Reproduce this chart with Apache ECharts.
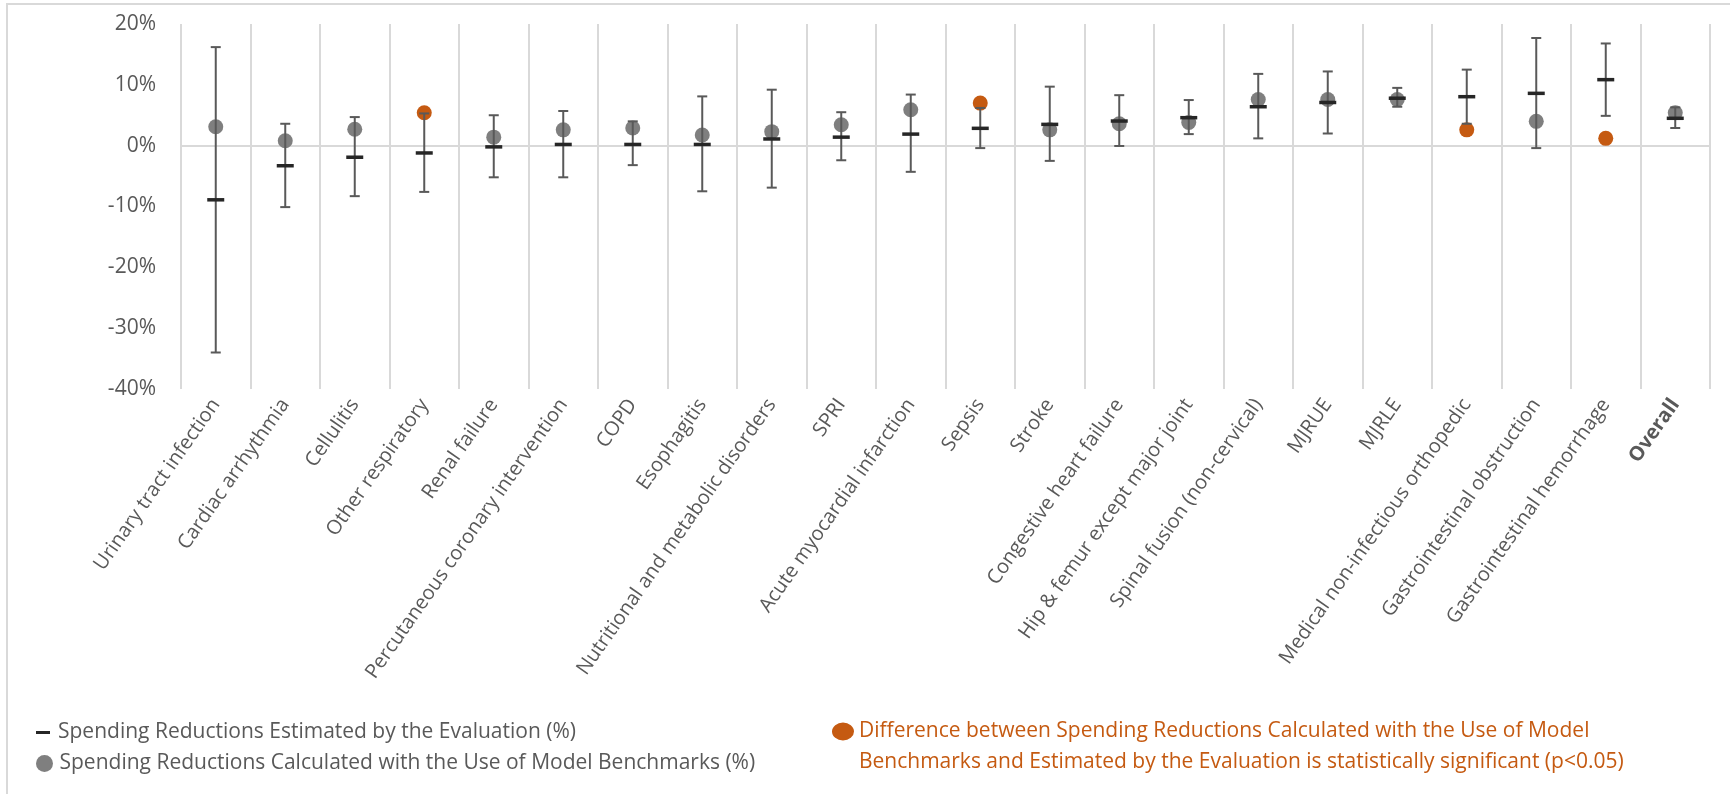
<!DOCTYPE html>
<html>
<head>
<meta charset="utf-8">
<title>Spending reductions by episode</title>
<script src="https://cdn.jsdelivr.net/npm/echarts@6/dist/echarts.min.js"></script>
<style>
  html, body { margin: 0; padding: 0; background: #ffffff; }
  #chart { width: 1730px; height: 794px; }
</style>
</head>
<body>
<div id="chart"></div>
<script>
// Episode categories, in display order
const categories = [
  'Urinary tract infection', 'Cardiac arrhythmia', 'Cellulitis', 'Other respiratory',
  'Renal failure', 'Percutaneous coronary intervention', 'COPD', 'Esophagitis',
  'Nutritional and metabolic disorders', 'SPRI', 'Acute myocardial infarction', 'Sepsis',
  'Stroke', 'Congestive heart failure', 'Hip & femur except major joint',
  'Spinal fusion (non-cervical)', 'MJRUE', 'MJRLE', 'Medical non-infectious orthopedic',
  'Gastrointestinal obstruction', 'Gastrointestinal hemorrhage', 'Overall'
];

// Spending reductions estimated by the evaluation (%)
const estimated = [-8.9, -3.3, -1.9, -1.2, -0.2, 0.2, 0.2, 0.2, 1.1, 1.4, 1.9, 2.85,
  3.5, 4.05, 4.6, 6.4, 7.1, 7.8, 8.05, 8.6, 10.85, 4.5];

// Confidence interval bounds of the evaluation estimate (%)
const ciLow = [-34.0, -10.1, -8.3, -7.6, -5.2, -5.2, -3.2, -7.5, -6.9, -2.4, -4.3, -0.4,
  -2.5, -0.05, 1.9, 1.2, 2.0, 6.4, 3.6, -0.4, 4.9, 2.9];
const ciHigh = [16.2, 3.6, 4.7, 5.3, 5.0, 5.7, 4.0, 8.1, 9.2, 5.5, 8.4, 6.2,
  9.7, 8.3, 7.5, 11.8, 12.2, 9.5, 12.5, 17.7, 16.8, 6.3];

// Spending reductions calculated with model benchmarks (%)
const benchmark = [3.1, 0.8, 2.7, 5.4, 1.4, 2.6, 2.9, 1.75, 2.3, 3.45, 5.9, 7.0,
  2.6, 3.6, 3.8, 7.6, 7.6, 7.6, 2.6, 4.0, 1.2, 5.4];

// Whether the difference between the two is statistically significant (p<0.05)
const significant = [false, false, false, true, false, false, false, false, false, false,
  false, true, false, false, false, false, false, false, true, false, true, false];

// Y axis range and step (%)
const yMin = -40, yMax = 20, yStep = 10;

const NAME_EST = 'Spending Reductions Estimated by the Evaluation (%)';
const NAME_BENCH = 'Spending Reductions Calculated with the Use of Model Benchmarks (%)';
const NAME_SIG = 'Difference between Spending Reductions Calculated with the Use of Model Benchmarks and Estimated by the Evaluation is statistically significant (p<0.05)';

const GRAY_TEXT = '#595959';
const GRID_LINE = '#d9d9d9';
const DOT_GRAY = '#7f7f7f';
const ORANGE = '#c55a11';
const FONT = '"Open Sans", "Noto Sans", sans-serif';

const benchData = benchmark.map((v, i) => significant[i] ? '-' : v);
const sigData = benchmark.map((v, i) => significant[i] ? v : '-');
const errData = categories.map((c, i) => [i, ciLow[i], ciHigh[i]]);

// Legend marker for the significance note: an ellipse sitting at the top of a tall
// box, so it lines up with the first line of the two-line label.
const SIG_ICON = 'path://M11,0A11,9,0,1,1,11,18A11,9,0,1,1,11,0ZM11,49Z';

const chart = echarts.init(document.getElementById('chart'), null, { renderer: 'canvas' });

const option = {
  backgroundColor: '#ffffff',
  animation: false,
  textStyle: { fontFamily: FONT },
  graphic: [{
    type: 'rect',
    z: -10,
    silent: true,
    shape: { x: 7, y: 4, width: 1800, height: 900 },
    style: { fill: 'none', stroke: GRID_LINE, lineWidth: 2 }
  }],
  grid: { left: 181, right: 20, top: 24, bottom: 405, containLabel: false },
  xAxis: [
    {
      // axis line through zero plus the vertical category separators
      type: 'category',
      data: categories,
      position: 'bottom',
      boundaryGap: true,
      axisLine: { show: true, onZero: true, lineStyle: { color: GRID_LINE, width: 2 } },
      axisTick: { show: false, interval: 0 },
      axisLabel: { show: false, interval: 0 },
      splitLine: { show: true, interval: 0, lineStyle: { color: GRID_LINE, width: 2 } }
    },
    {
      // category names along the bottom of the plot
      type: 'category',
      data: categories,
      position: 'bottom',
      boundaryGap: true,
      axisLine: { show: false, onZero: false },
      axisTick: { show: false },
      splitLine: { show: false },
      axisLabel: {
        interval: 0,
        rotate: 55,
        margin: 12,
        fontSize: 20,
        fontFamily: FONT,
        color: GRAY_TEXT,
        formatter: (v, i) => i === categories.length - 1 ? '{b|' + v + '}' : v,
        rich: { b: { fontWeight: 'bold', fontSize: 20, fontFamily: FONT, color: GRAY_TEXT } }
      }
    }
  ],
  yAxis: {
    type: 'value',
    min: yMin,
    max: yMax,
    interval: yStep,
    axisLine: { show: false },
    axisTick: { show: false },
    splitLine: { show: false },
    axisLabel: {
      formatter: '{value}%',
      fontSize: 21,
      fontFamily: FONT,
      color: GRAY_TEXT,
      margin: 25
    }
  },
  legend: [
    {
      data: [{ name: NAME_EST, icon: 'path://M0,0H14V3H0Z' }],
      left: 31, top: 717,
      itemWidth: 20, itemHeight: 3,
      textStyle: { fontSize: 21, fontFamily: FONT, color: GRAY_TEXT },
      selectedMode: false
    },
    {
      data: [{ name: NAME_BENCH, icon: 'circle' }],
      left: 31, top: 748,
      itemWidth: 20, itemHeight: 17,
      symbolKeepAspect: false,
      textStyle: { fontSize: 21, fontFamily: FONT, color: GRAY_TEXT },
      selectedMode: false
    },
    {
      data: [{ name: NAME_SIG, icon: SIG_ICON }],
      left: 827, top: 711,
      itemWidth: 22, itemHeight: 49,
      symbolKeepAspect: false,
      formatter: (name) => name.replace(' Benchmarks ', '\nBenchmarks '),
      textStyle: { fontSize: 21, fontFamily: FONT, color: ORANGE, lineHeight: 31 },
      selectedMode: false
    }
  ],
  series: [
    {
      name: NAME_BENCH,
      type: 'scatter',
      symbol: 'circle',
      symbolSize: 15,
      z: 2,
      itemStyle: { color: DOT_GRAY, opacity: 1 },
      data: benchData
    },
    {
      name: NAME_SIG,
      type: 'scatter',
      symbol: 'circle',
      symbolSize: 15,
      z: 2,
      itemStyle: { color: ORANGE, opacity: 1 },
      data: sigData
    },
    {
      name: 'CI',
      type: 'custom',
      z: 3,
      encode: { x: 0, y: [1, 2] },
      data: errData,
      renderItem: (params, api) => {
        const idx = api.value(0);
        const lo = api.coord([idx, api.value(1)]);
        const hi = api.coord([idx, api.value(2)]);
        const cap = 5;
        const style = { stroke: '#595959', lineWidth: 2, fill: 'none' };
        return {
          type: 'group',
          children: [
            { type: 'line', shape: { x1: lo[0], y1: lo[1], x2: hi[0], y2: hi[1] }, style },
            { type: 'line', shape: { x1: lo[0] - cap, y1: lo[1], x2: lo[0] + cap, y2: lo[1] }, style },
            { type: 'line', shape: { x1: hi[0] - cap, y1: hi[1], x2: hi[0] + cap, y2: hi[1] }, style }
          ]
        };
      }
    },
    {
      name: NAME_EST,
      type: 'scatter',
      symbol: 'rect',
      symbolSize: [17, 3.5],
      z: 4,
      itemStyle: { color: '#262626', opacity: 1 },
      data: estimated
    }
  ]
};

chart.setOption(option);
</script>
</body>
</html>
